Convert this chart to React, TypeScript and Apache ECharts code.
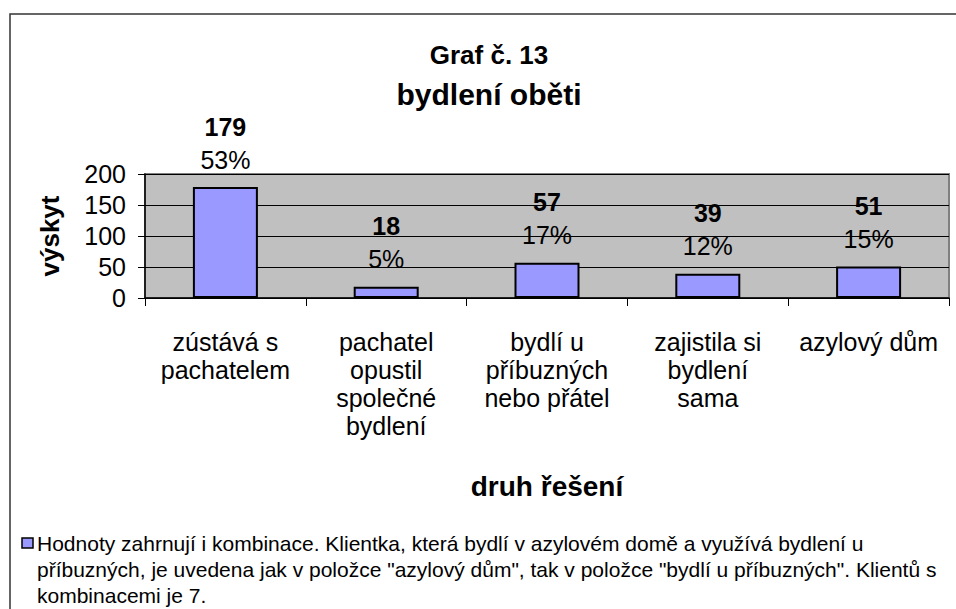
import React, { useEffect, useRef } from "react";
import * as echarts from "echarts";

const categories = [
  "zústává s\npachatelem",
  "pachatel\nopustil\nspolečné\nbydlení",
  "bydlí u\npříbuzných\nnebo přátel",
  "zajistila si\nbydlení\nsama",
  "azylový dům",
];
const counts = [179, 18, 57, 39, 51];
const percents = [53, 5, 17, 12, 15];
const yMin = 0;
const yMax = 200;
const yInterval = 50;
const titleLine1 = "Graf č. 13";
const titleLine2 = "bydlení oběti";
const yAxisTitle = "výskyt";
const xAxisTitle = "druh řešení";
const legendLines = [
  "Hodnoty zahrnují i kombinace. Klientka, která bydlí v azylovém domě a využívá bydlení u",
  "příbuzných, je uvedena jak v položce \"azylový dům\", tak v položce \"bydlí u příbuzných\". Klientů s",
  "kombinacemi je 7.",
];

const FONT = "Arial, 'Liberation Sans', sans-serif";

export default function App() {
  const ref = useRef<HTMLDivElement>(null);
  useEffect(() => {
    if (!ref.current) return;
    const chart = echarts.init(ref.current, undefined, { renderer: "svg" });
    chart.setOption({
      animation: false,
      backgroundColor: "#ffffff",
      textStyle: { fontFamily: FONT },
      grid: {
        left: 145,
        right: 7,
        top: 174,
        bottom: 311,
        show: true,
        backgroundColor: "#C0C0C0",
        borderColor: "#808080",
        borderWidth: 2,
      },
      xAxis: {
        type: "category",
        data: categories,
        name: xAxisTitle,
        nameLocation: "middle",
        nameGap: 174,
        nameTextStyle: { fontFamily: FONT, fontSize: 28, fontWeight: "bold", color: "#000" },
        axisLine: { lineStyle: { color: "#000", width: 1.5 } },
        axisTick: { show: true, length: 8, interval: 0, lineStyle: { color: "#000", width: 1 } },
        axisLabel: {
          interval: 0,
          margin: 30,
          fontFamily: FONT,
          fontSize: 25,
          lineHeight: 28,
          color: "#000",
          align: "center",
        },
        splitLine: { show: false },
      },
      yAxis: {
        type: "value",
        min: yMin,
        max: yMax,
        interval: yInterval,
        name: yAxisTitle,
        nameLocation: "middle",
        nameGap: 82,
        nameTextStyle: { fontFamily: FONT, fontSize: 26, fontWeight: "bold", color: "#000" },
        axisLine: { show: true, lineStyle: { color: "#000", width: 1.5 } },
        axisTick: { show: true, length: 7, lineStyle: { color: "#000", width: 1 } },
        axisLabel: { margin: 19, fontFamily: FONT, fontSize: 25, color: "#000" },
        splitLine: { show: true, lineStyle: { color: "#000", width: 1 } },
      },
      series: [
        {
          type: "bar",
          name: legendLines.join(" "),
          data: counts,
          barWidth: 65,
          itemStyle: { color: "#9999FF", borderColor: "#000", borderWidth: 2 },
          label: {
            show: true,
            position: "top",
            distance: 11,
            color: "#000",
            formatter: (p: any) => `{a|${counts[p.dataIndex]}}\n{b|${percents[p.dataIndex]}%}`,
            rich: {
              a: { fontFamily: FONT, fontSize: 25, fontWeight: "bold", lineHeight: 33, color: "#000" },
              b: { fontFamily: FONT, fontSize: 25, lineHeight: 33, color: "#000" },
            },
          },
        },
      ],
      graphic: [
        {
          type: "rect",
          shape: { x: 10, y: 14, width: 1000, height: 700 },
          style: { fill: "none", stroke: "#333", lineWidth: 1.5 },
          silent: true,
        },
        {
          type: "text",
          x: 489,
          y: 55,
          style: {
            text: titleLine1,
            fontFamily: FONT,
            fontSize: 26,
            fontWeight: "bold",
            fill: "#000",
            textAlign: "center",
            textVerticalAlign: "middle",
          },
        },
        {
          type: "text",
          x: 489,
          y: 94,
          style: {
            text: titleLine2,
            fontFamily: FONT,
            fontSize: 30,
            fontWeight: "bold",
            fill: "#000",
            textAlign: "center",
            textVerticalAlign: "middle",
          },
        },
        {
          type: "rect",
          shape: { x: 22, y: 538, width: 11, height: 10 },
          style: { fill: "#9999FF", stroke: "#000", lineWidth: 1.5 },
        },
        {
          type: "text",
          x: 37,
          y: 530,
          style: {
            text: legendLines.join("\n"),
            fontFamily: FONT,
            fontSize: 21,
            lineHeight: 26,
            fill: "#000",
            textAlign: "left",
            textVerticalAlign: "top",
          },
        },
      ],
    });
    return () => chart.dispose();
  }, []);
  return (
    <div
      ref={ref}
      style={{ position: "absolute", left: 0, top: 0, width: 956, height: 609, background: "#fff" }}
    />
  );
}
